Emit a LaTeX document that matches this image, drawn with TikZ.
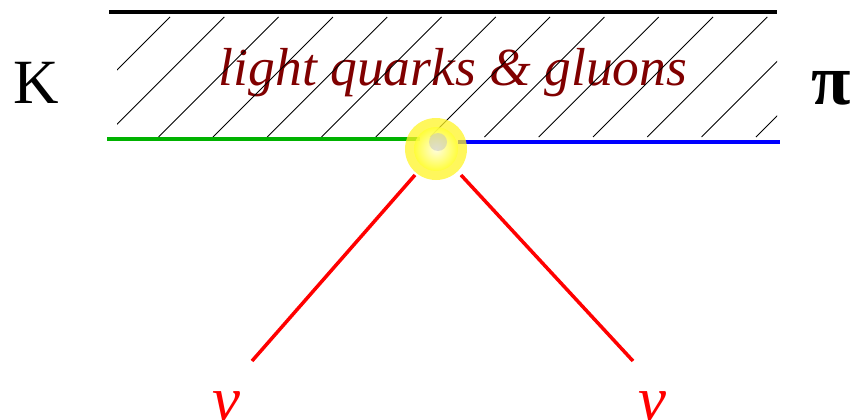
\documentclass[tikz,border=0pt]{standalone}
\usepackage{fontspec}
\setmainfont{Liberation Serif}
\begin{document}
\begin{tikzpicture}[x=1pt,y=-1pt,
  lbl/.style={inner sep=0pt, anchor=base},
  hatchline/.style={black, line width=0.9pt},
  thickline/.style={line width=4pt},
  nuline/.style={red, line width=3.5pt}]
\useasboundingbox (0,0) rectangle (854,420);
% text
\node[lbl, text=red!50!black, font=\fontsize{53.5}{60}\selectfont\itshape] (txt) at (453,85) {light quarks \& gluons};
% hatch
\begin{scope}
\clip (117,17) rectangle (777,137);
\foreach \k in {0,...,15}{
  \draw[hatchline] ({50+54.3*\k},137) -- ({170+54.3*\k},17);
}
\end{scope}
% top line
\coordinate (tl) at (109,12);
\coordinate (tr) at (777,12);
\draw[thickline, black] (tl) -- (tr);
% quark lines
\coordinate (gl) at (107,139);
\coordinate (gr) at (420,139);
\coordinate (bl) at (458,142);
\coordinate (br) at (780,142);
\draw[thickline, green!70!black] (gl) -- (gr);
\draw[thickline, blue] (bl) -- (br);
% vertex
\node[circle, minimum size=62pt, inner sep=0pt] (v) at (436,149) {};
\fill[yellow!85!white, opacity=0.75] (v.center) circle (31);
\shade[inner color=white, outer color=yellow!80!white, opacity=0.8] (v.center) circle (22);
\fill[gray!50, opacity=0.5] (438,142) circle (9);
% neutrino lines
\coordinate (n1s) at (415,175);
\coordinate (n1e) at (252,361);
\coordinate (n2s) at (461,175);
\coordinate (n2e) at (633,361);
\draw[nuline] (n1s) -- (n1e);
\draw[nuline] (n2s) -- (n2e);
% labels
\node[lbl, font=\fontsize{63}{70}\selectfont] (K) at (36,103) {K};
\node[lbl, font=\fontsize{72}{80}\selectfont\bfseries] (pi) at (831,104) {π};
\node[lbl, text=red, font=\fontsize{63}{70}\selectfont\itshape] (nu1) at (226,420) {ν};
\node[lbl, text=red, font=\fontsize{63}{70}\selectfont\itshape] (nu2) at (652,420) {ν};
\end{tikzpicture}
\end{document}
